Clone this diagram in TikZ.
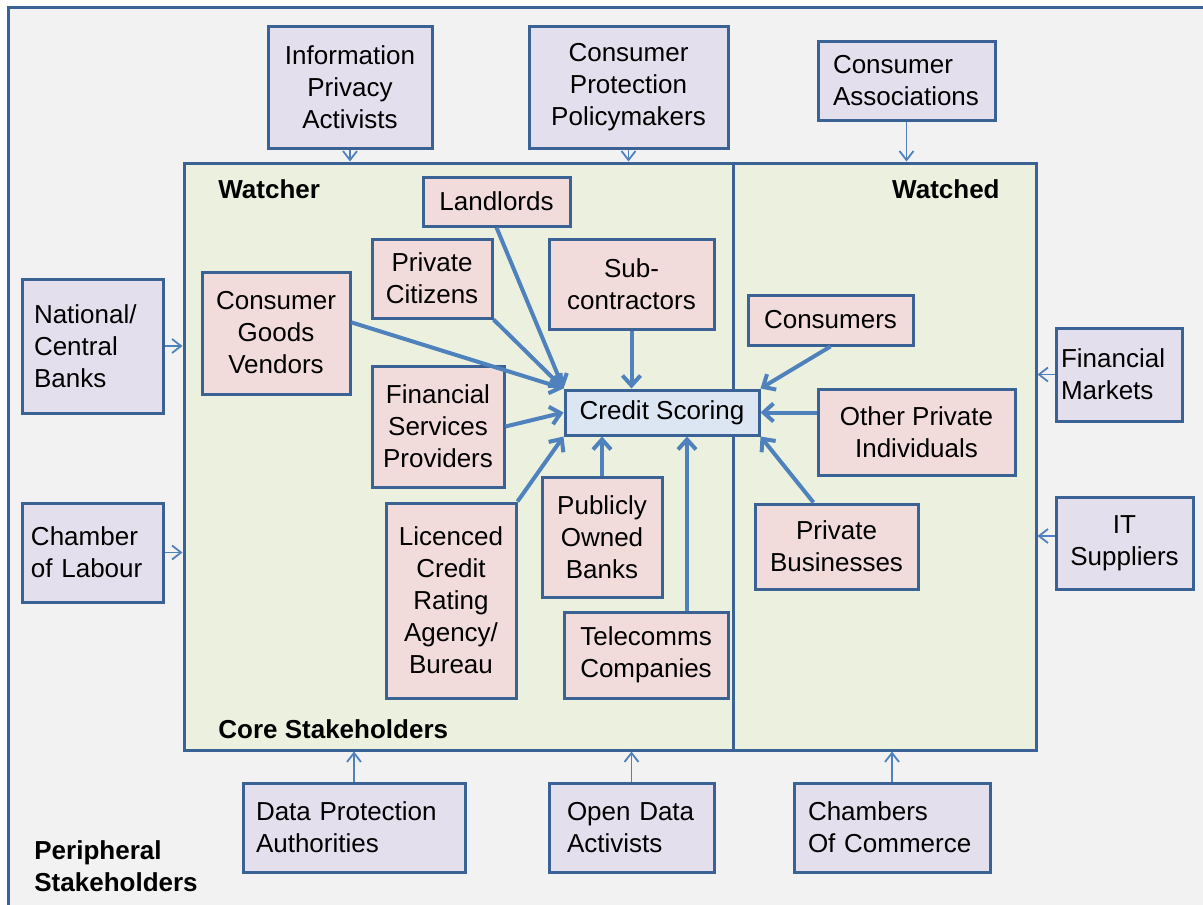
\documentclass[tikz,border=0pt]{standalone}
\usepackage{fontspec}
\setmainfont{Liberation Sans}
\usepackage{xcolor}
\usepackage{tikz}
\usetikzlibrary{arrows.meta}
\definecolor{frameblue}{RGB}{58,98,148}
\definecolor{arrowblue}{RGB}{79,129,189}
\definecolor{outerfill}{RGB}{242,242,242}
\definecolor{corefill}{RGB}{235,241,222}
\definecolor{periphfill}{RGB}{228,223,236}
\definecolor{stakefill}{RGB}{242,220,219}
\definecolor{scorefill}{RGB}{220,230,242}

\begin{document}
\begin{tikzpicture}[x=0.5pt,y=-0.5pt,
	font=\fontsize{13}{16}\selectfont,
	periph/.style={draw=frameblue,line width=1.5pt,fill=periphfill,align=center},
	periphleft/.style={periph,align=left,inner xsep=2pt,text width=#1},
	stake/.style={draw=frameblue,line width=1.5pt,fill=stakefill,align=center},
	heading/.style={font=\fontsize{13}{16}\selectfont\bfseries,inner sep=0pt},
	corearrow/.style={arrowblue,line width=2pt,-{Straight Barb[length=5pt,width=9pt]}},
	periarrow/.style={arrowblue,line width=0.9pt,-{Straight Barb[length=4.5pt,width=7pt]}}]
					\useasboundingbox (0,0) rectangle (1203,904);
					\clip (0,0) rectangle (1203,904);
					\draw[frameblue,line width=1.5pt,fill=outerfill] (8,8) rectangle (1240,940);
					% core stakeholders
					\node[draw=frameblue,line width=1.5pt,fill=corefill,minimum width=426pt,minimum height=293.5pt] (core) at (610,456.5) {};
					\coordinate (div) at (733,456.5);
					\draw[frameblue,line width=1.5pt] (div |- core.north) -- (div |- core.south);
					\node[heading,anchor=west] (watcher) at (218,189) {Watcher};
					\node[heading,anchor=east] (watched) at (1000,189) {Watched};
					\node[heading,anchor=west] (corelabel) at (218,729) {Core Stakeholders};
					\node[heading,anchor=west,align=left] (perilabel) at (34,866) {Peripheral\\Stakeholders};
					\node[stake,minimum width=73.5pt,minimum height=24.5pt] (landlords) at (496.5,201.5) {Landlords};
					\node[stake,minimum width=60pt,minimum height=39.5pt] (privcit) at (432,278.5) {Private\\Citizens};
					\node[stake,minimum width=82.5pt,minimum height=45pt] (subcon) at (631.5,284) {Sub-\\contractors};
					\node[stake,minimum width=74pt,minimum height=61pt] (congoods) at (276,333) {Consumer\\Goods\\Vendors};
					\node[stake,minimum width=66pt,minimum height=60.5pt] (finserv) at (438,426.5) {Financial\\Services\\Providers};
					\node[stake,minimum width=65pt,minimum height=97.5pt] (licenced) at (451,600.5) {Licenced\\Credit\\Rating\\Agency/\\Bureau};
					\node[stake,minimum width=60pt,minimum height=60pt] (publicly) at (602,537) {Publicly\\Owned\\Banks};
					\node[stake,minimum width=82pt,minimum height=43pt] (telecomms) at (646,655) {Telecomms\\Companies};
					\node[stake,minimum width=82.5pt,minimum height=25pt] (consumers) at (830.5,320) {Consumers};
					\node[stake,minimum width=98.5pt,minimum height=43pt] (otherpriv) at (916.5,432) {Other Private\\Individuals};
					\node[stake,minimum width=81.5pt,minimum height=42.5pt] (privbus) at (836.5,546.5) {Private\\Businesses};
					\node[stake,fill=scorefill,minimum width=97pt,minimum height=22.5pt] (credit) at (662,412.5) {Credit Scoring};
					\draw[corearrow] (landlords.south) -- (credit.north west);
					\draw[corearrow] (privcit.south east) -- (credit.north west);
					\draw[corearrow] (congoods.8) -- (credit.north west);
					\draw[corearrow] (subcon.south) -- (subcon.south |- credit.north);
					\draw[corearrow] (finserv.east) -- (credit.west);
					\draw[corearrow] (licenced.north east) -- (credit.south west);
					\draw[corearrow] (publicly.north) -- (publicly.north |- credit.south);
					\coordinate (telup) at ([xshift=20.5pt]telecomms.north);
					\draw[corearrow] (telup) -- (telup |- credit.south);
					\draw[corearrow] (consumers.south) -- (credit.north east);
					\draw[corearrow] (otherpriv.west |- credit.east) -- (credit.east);
					\coordinate (busup) at ([xshift=-11.5pt]privbus.north);
					\draw[corearrow] (busup) -- (credit.south east);
					% peripheral stakeholders
					\node[periph,minimum width=82pt,minimum height=60.5pt] (infopriv) at (350,87.5) {Information\\Privacy\\Activists};
					\node[periph,minimum width=99.5pt,minimum height=60.5pt] (conprot) at (628.5,87.5) {Consumer\\Protection\\Policymakers};
					\node[periphleft=73.5pt,minimum width=88.5pt,minimum height=39pt] (conassoc) at (906.5,81) {Consumer\\Associations};
					\node[periphleft=58.5pt,minimum width=70.5pt,minimum height=67pt] (natbank) at (92.5,346) {National/\\Central\\Banks};
					\node[periphleft=61.5pt,minimum width=70.5pt,minimum height=49.5pt] (chamlab) at (92.5,552.5) {Chamber\\of Labour};
					\node[periphleft=58pt,minimum width=63pt,minimum height=46.5pt] (finmark) at (1119,374.5) {Financial\\Markets};
					\node[periph,minimum width=68.5pt,minimum height=46pt] (itsupp) at (1124.5,543) {IT\\Suppliers};
					\node[periphleft=98pt,minimum width=111pt,minimum height=44.5pt] (dpa) at (354,827.5) {Data Protection\\Authorities};
					\node[periphleft=64.5pt,minimum width=82.5pt,minimum height=44.5pt] (opendata) at (631.5,827.5) {Open Data\\Activists};
					\node[periphleft=84pt,minimum width=98pt,minimum height=44.5pt] (chamcom) at (892,827.5) {Chambers\\Of Commerce};
					\draw[periarrow] (infopriv.south) -- (infopriv.south |- core.north);
					\draw[periarrow] (conprot.south) -- (conprot.south |- core.north);
					\draw[periarrow] (conassoc.south) -- (conassoc.south |- core.north);
					\draw[periarrow] (natbank.east) -- (natbank.east -| core.west);
					\draw[periarrow] (chamlab.east) -- (chamlab.east -| core.west);
					\draw[periarrow] (finmark.west) -- (finmark.west -| core.east);
					\coordinate (itleft) at ([yshift=3.5pt]itsupp.west);
					\draw[periarrow] (itleft) -- (itleft -| core.east);
					\draw[periarrow] (dpa.north) -- (dpa.north |- core.south);
					\draw[periarrow] (opendata.north) -- (opendata.north |- core.south);
					\draw[periarrow] (chamcom.north) -- (chamcom.north |- core.south);
				\end{tikzpicture}
\end{document}
